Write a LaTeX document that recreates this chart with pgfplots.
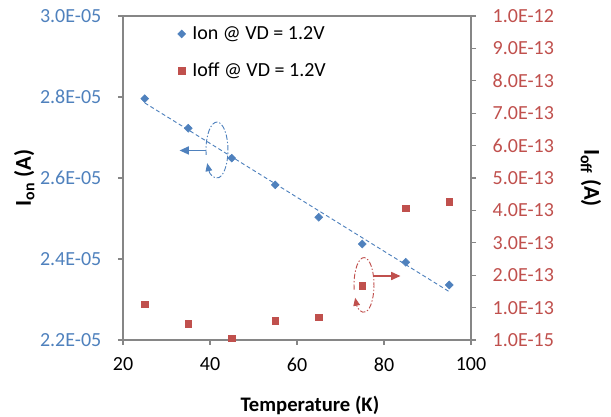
\documentclass[border=0pt]{standalone}
\usepackage{fontspec}
\setmainfont{Carlito}
\usepackage{pgfplots}
\pgfplotsset{compat=1.18}
\usetikzlibrary{arrows.meta}
\definecolor{blueC}{HTML}{4F81BD}
\definecolor{redC}{HTML}{C0504D}
\definecolor{axgray}{HTML}{868686}
\begin{document}
\begin{tikzpicture}
\pgfplotsset{
  every axis/.append style={
    scale only axis, width=261pt, height=243pt,
    xmin=20, xmax=100,
    font=\fontsize{15}{18}\selectfont,
    /pgf/number format/assume math mode=true,
    scaled y ticks=false,
    tick align=outside,
    major tick length=3.75pt,
    axis line style={axgray, line width=0.9pt},
    every tick/.style={axgray, line width=0.9pt},
  }
}
\begin{axis}[
  name=main,
  clip=false,
  tick pos=left,
  ymin=2.2e-5, ymax=3.0e-5,
  xtick={20,40,60,80,100},
  ytick={2.2e-5,2.4e-5,2.6e-5,2.8e-5,3.0e-5},
  yticklabels={2.2E-05,2.4E-05,2.6E-05,2.8E-05,3.0E-05},
  yticklabel style={text=blueC, xshift=-9pt},
  xticklabel style={yshift=-6pt},
  xlabel={\fontsize{15.5}{18}\selectfont\textbf{Temperature (K)}},
  xlabel style={at={(axis description cs:0.537,0)}, anchor=center, yshift=-49pt},
  ylabel={\fontsize{17}{20}\selectfont\textbf{I\textsubscript{on} (A)}},
  ylabel style={at={(axis description cs:0,0.5)}, anchor=center, yshift=74pt},
]
\addplot[blueC, dashed, dash pattern=on 3pt off 2pt, line width=0.7pt] coordinates {(25,2.7854e-5) (95,2.3194e-5)};
\addplot[only marks, mark=square*, mark options={rotate=45}, mark size=2.1pt, color=blueC] coordinates {
(25,2.796e-5) (35,2.723e-5) (45,2.649e-5) (55,2.583e-5)
(65,2.503e-5) (75,2.437e-5) (85,2.392e-5) (95,2.336e-5)};
% annotations
\draw[blueC, line width=0.7pt, dash pattern=on 4pt off 1.5pt on 1pt off 1.5pt, -{Triangle[length=6pt,width=5pt]}]
  (axis cs:41.6,2.669e-5) ++(190:8.25pt and 21pt) arc[start angle=190, end angle=-152, x radius=8.25pt, y radius=21pt];
\draw[blueC, line width=1.2pt, -{Triangle[length=7pt,width=6pt]}] (axis cs:39,2.668e-5) -- (axis cs:33,2.668e-5);
\draw[redC, line width=0.7pt, dash pattern=on 4pt off 1.5pt on 1pt off 1.5pt, -{Triangle[length=6pt,width=5pt]}]
  (axis cs:75.4,2.336e-5) ++(190:7.5pt and 20.5pt) arc[start angle=190, end angle=-152, x radius=7.5pt, y radius=20.5pt];
\draw[redC, line width=1.2pt, -{Triangle[length=7pt,width=6pt]}] (axis cs:77.5,2.358e-5) -- (axis cs:83.8,2.358e-5);
\end{axis}
\begin{axis}[
  axis x line=none,
  axis y line*=right,
  ymin=1e-15, ymax=1.001e-12,
  ytick={1e-15,1.01e-13,2.01e-13,3.01e-13,4.01e-13,5.01e-13,6.01e-13,7.01e-13,8.01e-13,9.01e-13,1.001e-12},
  yticklabels={1.0E-15,1.0E-13,2.0E-13,3.0E-13,4.0E-13,5.0E-13,6.0E-13,7.0E-13,8.0E-13,9.0E-13,1.0E-12},
  yticklabel style={text=redC, xshift=9pt},
  ylabel={\fontsize{17}{20}\selectfont\textbf{I\textsubscript{off} (A)}},
  ylabel style={at={(axis description cs:1,0.5)}, anchor=center, rotate=180, yshift=90pt},
  legend style={draw=none, fill=none, at={(axis description cs:0.145,0.985)}, anchor=north west,
    row sep=12pt, font=\fontsize{15}{18}\selectfont,
    /tikz/every odd column/.style={column sep=3pt}},
  legend cell align=left,
]
\addlegendimage{only marks, mark=square*, mark options={rotate=45}, mark size=2.1pt, color=blueC}
\addlegendentry{Ion @ VD = 1.2V}
\addplot[only marks, mark=square*, mark size=2.4pt, color=redC] coordinates {
(25,1.12e-13) (35,5.1e-14) (45,6e-15) (55,6.0e-14)
(65,7.2e-14) (75,1.68e-13) (85,4.07e-13) (95,4.28e-13)};
\addlegendentry{Ioff @ VD = 1.2V}
\end{axis}
\pgfresetboundingbox
\useasboundingbox (main.south west) ++(-92.25pt,-57.75pt) rectangle ++(458.25pt,312.75pt);
\end{tikzpicture}
\end{document}
